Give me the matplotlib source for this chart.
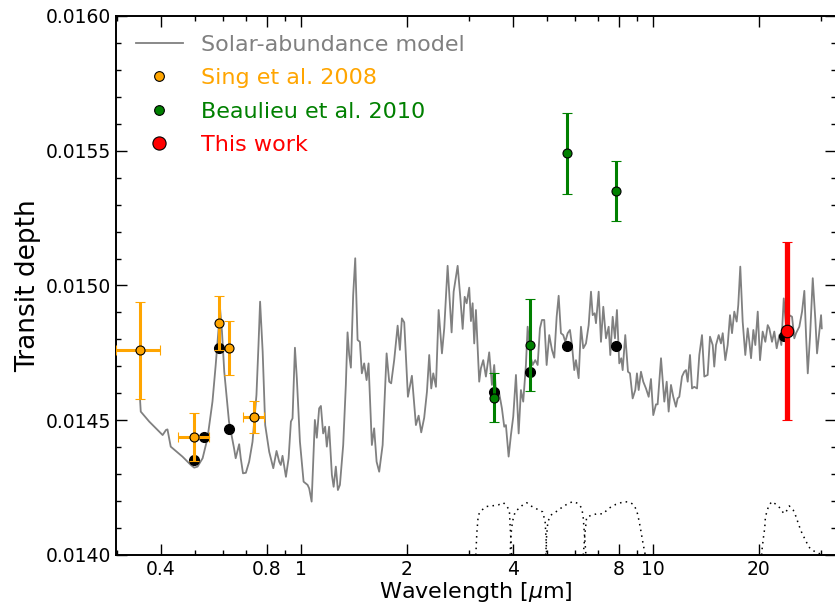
import numpy as np
import matplotlib
matplotlib.use("Agg")
import matplotlib.pyplot as plt
from matplotlib.lines import Line2D
from matplotlib.ticker import FixedLocator, FixedFormatter, NullFormatter

# solar-abundance model spectrum
model_wl = [0.349, 0.351, 0.371, 0.405, 0.414, 0.418, 0.427, 0.461, 0.487, 0.498,
            0.509, 0.526, 0.543, 0.561, 0.573, 0.584, 0.589, 0.597, 0.606, 0.625, 0.646,
            0.653, 0.668, 0.675, 0.685, 0.698, 0.713, 0.729, 0.748, 0.758, 0.766,
            0.779, 0.792, 0.813, 0.835, 0.853, 0.868, 0.877, 0.887, 0.907, 0.923,
            0.937, 0.947, 0.962, 0.974, 0.994, 1.018, 1.045, 1.056, 1.073, 1.084,
            1.096, 1.110, 1.127, 1.140, 1.157, 1.172, 1.185, 1.203, 1.225, 1.239,
            1.257, 1.274, 1.291, 1.319, 1.342, 1.357, 1.372, 1.387, 1.408, 1.427,
            1.449, 1.471, 1.490, 1.513, 1.537, 1.557, 1.591, 1.615, 1.641, 1.669,
            1.707, 1.752, 1.782, 1.805, 1.841, 1.883, 1.911, 1.936, 1.966, 2.014,
            2.067, 2.122, 2.160, 2.197, 2.240, 2.281, 2.315, 2.346, 2.377, 2.419,
            2.462, 2.516, 2.554, 2.611, 2.680, 2.716, 2.788, 2.836, 2.881, 2.919,
            2.957, 3.007, 3.041, 3.075, 3.107, 3.142,
            3.210, 3.246, 3.296, 3.354, 3.427, 3.488, 3.541, 3.598, 3.659, 3.724,
            3.781, 3.823, 3.891, 3.950, 4.010, 4.082, 4.155, 4.217, 4.281, 4.357,
            4.406, 4.481, 4.552, 4.631, 4.704, 4.775, 4.838, 4.912, 4.989, 5.075,
            5.166, 5.244, 5.327, 5.397, 5.478, 5.562, 5.636, 5.725, 5.811, 5.888,
            5.977, 6.044, 6.151, 6.245, 6.340, 6.453, 6.567, 6.668, 6.742, 6.831,
            6.889,
            7.011, 7.118, 7.226, 7.355, 7.485, 7.565, 7.684, 7.798, 7.901, 8.022,
            8.127, 8.202, 8.343, 8.492, 8.604, 8.756, 8.907, 9.006, 9.108, 9.246,
            9.385, 9.553, 9.723, 9.870, 10.02, 10.20, 10.31, 10.54, 10.77, 10.94,
            11.08, 11.25, 11.42, 11.62, 11.75, 11.88, 12.09, 12.27, 12.41, 12.55,
            12.74, 12.91, 13.10, 13.34, 13.54, 13.78, 13.99, 14.30, 14.52, 14.78,
            14.93, 15.10,
            15.37, 15.60, 15.78, 16.05, 16.30, 16.55, 16.77, 17.02, 17.29, 17.47,
            17.70, 17.98, 18.29, 18.58, 18.78, 18.99, 19.28, 19.53, 19.84, 20.14,
            20.49, 20.85, 21.18, 21.40, 21.78, 22.11, 22.46, 22.85, 23.15, 23.52,
            23.87, 24.14, 24.39, 24.83, 25.20, 25.49, 26.04, 26.51, 26.91, 27.21,
            27.52, 27.93, 28.43, 28.92, 29.24, 29.69, 30.02, 30.16]
model_depth = [0.014587, 0.014532, 0.014495, 0.014445, 0.014464, 0.014466, 0.014402, 0.014365, 0.014334, 0.014324,
               0.014328, 0.014359, 0.014433, 0.014569, 0.014705, 0.014841, 0.014921, 0.014829, 0.014680, 0.014495, 0.014396,
               0.014359, 0.014411, 0.014359, 0.014303, 0.014305, 0.014346, 0.014420, 0.014594, 0.014779, 0.014940,
               0.014754, 0.014482, 0.014383, 0.014322, 0.014386, 0.014346, 0.014334, 0.014368, 0.014290, 0.014359,
               0.014495, 0.014507, 0.014769, 0.014656, 0.014420, 0.014272, 0.014260, 0.014247, 0.014198, 0.014346,
               0.014501, 0.014435, 0.014544, 0.014553, 0.014451, 0.014476, 0.014402, 0.014476, 0.014297, 0.014253,
               0.014328, 0.014241, 0.014260, 0.014408, 0.014631, 0.014826, 0.014742, 0.014695, 0.014965, 0.015101,
               0.014798, 0.014791, 0.014674, 0.014711, 0.014649, 0.014711, 0.014408, 0.014470, 0.014346, 0.014309,
               0.014408, 0.014748, 0.014643, 0.014637, 0.014723, 0.014851, 0.014761, 0.014878, 0.014863, 0.014587,
               0.014665, 0.014482, 0.014517, 0.014455, 0.014509, 0.014606, 0.014742, 0.014618, 0.014674, 0.014624,
               0.014909, 0.014748, 0.014841, 0.015073, 0.014826, 0.014977, 0.015073, 0.014958, 0.014839, 0.014958,
               0.014934, 0.014992, 0.014868, 0.014934, 0.014785, 0.014909,
               0.014643, 0.014693, 0.014723, 0.014662, 0.014752, 0.014631, 0.014705, 0.014569, 0.014600, 0.014544,
               0.014476, 0.014482, 0.014365, 0.014445, 0.014513, 0.014668, 0.014451, 0.014612, 0.014569, 0.014705,
               0.014847, 0.014742, 0.014705, 0.014723, 0.014705, 0.014841, 0.014872, 0.014872, 0.014705, 0.014816,
               0.014761, 0.014732, 0.014884, 0.014962, 0.014823, 0.014816, 0.014791, 0.014823, 0.014835, 0.014779,
               0.014686, 0.014723, 0.014656, 0.014847, 0.014767, 0.014785, 0.014853, 0.014977, 0.014890, 0.014897,
               0.014860,
               0.014977, 0.014791, 0.014921, 0.014804, 0.014847, 0.014742, 0.014884, 0.014804, 0.014909, 0.014711,
               0.014730, 0.014686, 0.014816, 0.014680, 0.014674, 0.014581, 0.014612, 0.014674, 0.014612, 0.014680,
               0.014643, 0.014618, 0.014587, 0.014653, 0.014519, 0.014559, 0.014559, 0.014730, 0.014569, 0.014643,
               0.014532, 0.014631, 0.014587, 0.014550, 0.014581, 0.014587, 0.014662, 0.014680, 0.014686, 0.014643,
               0.014742, 0.014618, 0.014624, 0.014618, 0.014742, 0.014816, 0.014662, 0.014668, 0.014810, 0.014779,
               0.014699, 0.014779,
               0.014816, 0.014785, 0.014823, 0.014723, 0.014779, 0.014890, 0.014823, 0.014903, 0.014866, 0.014928,
               0.015070, 0.014866, 0.014742, 0.014841, 0.014791, 0.014730, 0.014835, 0.014779, 0.014903, 0.014723,
               0.014829, 0.014791, 0.014853, 0.014841, 0.014791, 0.014829, 0.014767, 0.014816, 0.014779, 0.014952,
               0.014853, 0.014717, 0.014890, 0.014884, 0.014804, 0.014823, 0.014847, 0.014903, 0.014980, 0.014816,
               0.014674, 0.014810, 0.015027, 0.014872, 0.014748, 0.014829, 0.014890, 0.014841]

# model binned over the observed bandpasses (black dots)
bin_wl = [0.498, 0.532, 0.587, 0.625, 3.54, 4.48, 5.70, 7.85, 23.6]
bin_depth = [0.014351, 0.014439, 0.014769, 0.014466, 0.014606, 0.014680, 0.014777, 0.014777, 0.014813]

# Sing et al. 2008
sing_wl = [0.349, 0.498, 0.587, 0.625, 0.735]
sing_depth = [0.014759, 0.014439, 0.014860, 0.014767, 0.014513]
sing_err = [0.00018, 0.000089, 0.0001, 0.0001, 0.00006]
sing_xerr = [0.05, 0.05, 0.0, 0.0, 0.05]

# Beaulieu et al. 2010
beau_wl = [3.54, 4.48, 5.71, 7.85]
beau_depth = [0.014584, 0.014779, 0.015490, 0.015351]
beau_err = [0.000092, 0.00017, 0.00015, 0.00011]

# this work
this_wl = [24.0]
this_depth = [0.014830]
this_err = [0.00033]

# filter transmission curves (normalised)
irac1_wl = [3.14, 3.16, 3.19, 3.26, 3.37, 3.48, 3.64, 3.76, 3.84, 3.91, 3.93, 3.95, 3.97]
irac1_resp = [0, 0.40, 0.74, 0.83, 0.90, 0.91, 0.93, 0.97, 0.91, 0.83, 0.53, 0.28, 0]
irac2_wl = [3.93, 3.95, 3.99, 4.06, 4.17, 4.27, 4.38, 4.50, 4.63, 4.75, 4.86, 4.94, 4.97, 4.99]
irac2_resp = [0, 0.37, 0.62, 0.80, 0.87, 0.93, 0.97, 0.91, 0.87, 0.83, 0.80, 0.62, 0.31, 0]
irac3_wl = [4.96, 4.99, 5.03, 5.13, 5.30, 5.48, 5.66, 5.91, 6.11, 6.28, 6.34, 6.38, 6.42, 6.45]
irac3_resp = [0, 0.37, 0.62, 0.74, 0.80, 0.87, 0.93, 0.99, 0.96, 0.87, 0.68, 0.43, 0.19, 0]
irac4_wl = [6.34, 6.41, 6.48, 6.70, 6.99, 7.20, 7.51, 7.85, 8.29, 8.56, 8.79, 8.99, 9.14, 9.25, 9.35, 9.45, 9.51]
irac4_resp = [0, 0.40, 0.70, 0.74, 0.77, 0.76, 0.87, 0.94, 0.99, 0.98, 0.94, 0.83, 0.62, 0.43, 0.25, 0.09, 0]
mips_wl = [20.36, 20.40, 20.58, 20.77, 20.85, 21.04, 21.32, 21.74, 22.36, 22.96, 23.52,
           23.87, 24.39, 25.04, 25.49, 25.94, 26.51, 27.09, 27.70, 28.30, 28.92, 29.82]
mips_resp = [0, 0.09, 0.31, 0.50, 0.68, 0.80, 0.91, 0.99, 0.94, 0.87, 0.77,
             0.80, 0.91, 0.83, 0.71, 0.56, 0.40, 0.28, 0.15, 0.09, 0.06, 0.02]

xticks = [0.4, 0.8, 1, 2, 4, 8, 10, 20]
xticklabels = ["0.4", "0.8", "1", "2", "4", "8", "10", "20"]
xminor = [0.3, 0.5, 0.6, 0.7, 0.9, 3, 5, 6, 7, 9, 30]

fig = plt.figure(figsize=(8.35, 6.08), dpi=100)
ax = fig.add_axes([0.1389, 0.0872, 0.8623, 0.8865])

ax.plot(model_wl, model_depth, color="gray", lw=1.3, zorder=1)

filt_base, filt_height = 0.0140, 0.0002
for wl, resp in [(irac1_wl, irac1_resp), (irac2_wl, irac2_resp), (irac3_wl, irac3_resp),
                 (irac4_wl, irac4_resp), (mips_wl, mips_resp)]:
    ax.plot(wl, filt_base + filt_height * np.array(resp), ls=(0, (1, 2.8)), color="k",
            lw=1.1, zorder=1)

ax.plot(bin_wl, bin_depth, "o", color="k", ms=7, zorder=2)

ax.errorbar(sing_wl, sing_depth, yerr=sing_err, xerr=sing_xerr, fmt="o", color="orange",
            mec="k", mew=0.8, ms=6.5, elinewidth=2.2, capsize=3.6, capthick=1.2, zorder=3)
ax.errorbar(beau_wl, beau_depth, yerr=beau_err, fmt="o", color="green",
            mec="k", mew=0.8, ms=6.5, elinewidth=2.2, capsize=3.4, capthick=1.2, zorder=3)
ax.errorbar(this_wl, this_depth, yerr=this_err, fmt="o", color="red",
            mec="k", mew=0.8, ms=9, elinewidth=3.8, capsize=3.6, capthick=1.2, zorder=4)

ax.set_xscale("log")
ax.set_xlim(0.2985, 33.1)
ax.set_ylim(0.0140, 0.0160)
ax.xaxis.set_major_locator(FixedLocator(xticks))
ax.xaxis.set_major_formatter(FixedFormatter(xticklabels))
ax.xaxis.set_minor_locator(FixedLocator(xminor))
ax.xaxis.set_minor_formatter(NullFormatter())
ax.yaxis.set_major_locator(FixedLocator([0.0140, 0.0145, 0.0150, 0.0155, 0.0160]))
ax.yaxis.set_major_formatter(FixedFormatter(["0.0140", "0.0145", "0.0150", "0.0155", "0.0160"]))
ax.yaxis.set_minor_locator(FixedLocator(np.arange(0.0140, 0.01601, 0.0001)))

ax.tick_params(which="both", direction="in", top=True, right=True, labelsize=13.5)
ax.tick_params(which="major", length=8, width=1)
ax.tick_params(which="minor", length=3.5, width=1)
for s in ax.spines.values():
    s.set_linewidth(1.4)

ax.set_xlabel(r"Wavelength [$\mu$m]", fontsize=16, labelpad=1)
ax.set_ylabel("Transit depth", fontsize=19, labelpad=3)

handles = [
    Line2D([], [], color="gray", lw=1.3),
    Line2D([], [], marker="o", ls="none", mfc="orange", mec="k", mew=0.8, ms=7),
    Line2D([], [], marker="o", ls="none", mfc="green", mec="k", mew=0.8, ms=7),
    Line2D([], [], marker="o", ls="none", mfc="red", mec="k", mew=0.8, ms=9.5),
]
labels = ["Solar-abundance model", "Sing et al. 2008", "Beaulieu et al. 2010", "This work"]
ax.legend(handles, labels, loc="upper left", bbox_to_anchor=(0.028, 0.965), frameon=False,
          fontsize=16, borderpad=0, borderaxespad=0, handlelength=2.1, handletextpad=0.8,
          labelspacing=0.6, numpoints=1,
          labelcolor=["gray", "orange", "green", "red"])

fig.savefig("out.png", dpi=100)
